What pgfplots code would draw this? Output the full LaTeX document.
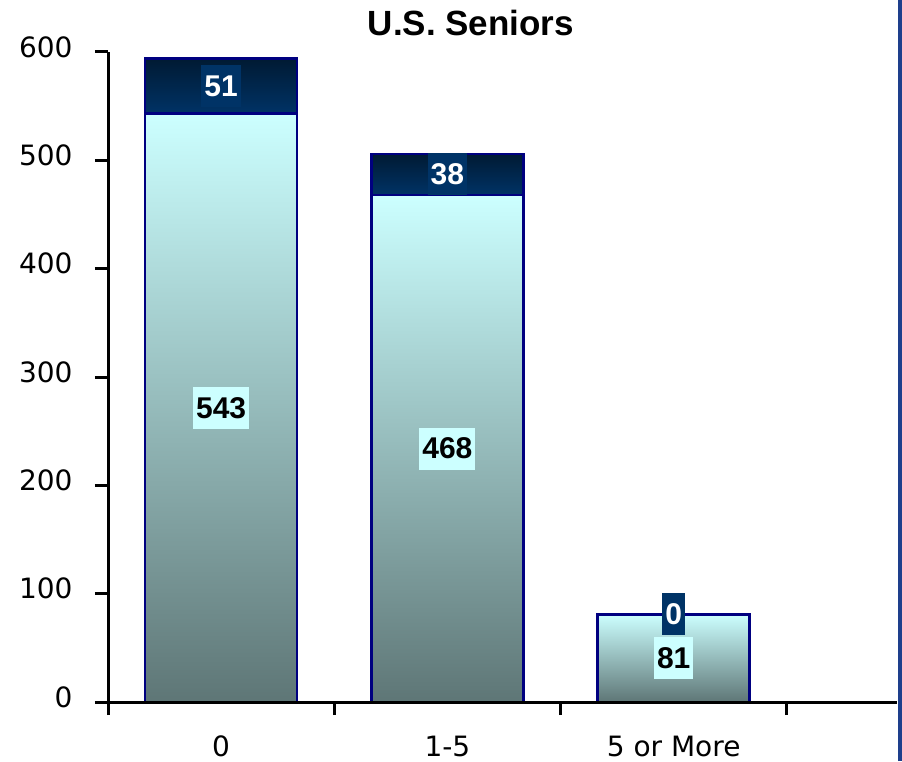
\documentclass[border=0pt]{standalone}
\usepackage{fontspec}
\setmainfont{DejaVu Sans}
\newfontfamily\arial{Liberation Sans}
\usepackage{pgfplots}
\pgfplotsset{compat=1.18}

\definecolor{navyedge}{HTML}{000080}
\definecolor{cyantop}{HTML}{CCFFFF}
\definecolor{cyanmid}{HTML}{9CBEBE}
\definecolor{cyanbot}{HTML}{5E7676}
\definecolor{darktop}{HTML}{001A33}
\definecolor{darkbot}{HTML}{003366}
\definecolor{frameblue}{HTML}{1E3F8C}

\pgfplotsset{
  samebox/.style={
    at={(108pt,59pt)}, anchor=south west,
    scale only axis, width=789pt, height=650pt,
    xmin=-0.5, xmax=2.987, ymin=0, ymax=600,
    clip=false,
  },
  % one axis per bar, so that each bar gets its own gradient
  barax/.style={samebox, hide axis, ybar stacked, bar width=0.672},
  lower/.style={draw=navyedge, line width=2.5pt,
    top color=cyantop, middle color=cyanmid, bottom color=cyanbot},
  upper/.style={draw=navyedge, line width=2.5pt,
    top color=darktop, bottom color=darkbot},
  lab/.style={
    only marks, mark=none,
    nodes near coords, point meta=explicit symbolic,
    every node near coord/.append style={
      anchor=center, inner xsep=3pt, inner ysep=0pt,
      minimum height=42pt, text depth=0pt,
      font=\arial\bfseries\fontsize{30}{36}\selectfont, #1},
  },
}

\begin{document}
\begin{tikzpicture}
\path[use as bounding box] (0,0) rectangle (902pt,761pt);

\begin{axis}[barax]
\addplot[lower] coordinates {(0,543)};
\addplot[upper] coordinates {(0,51)};
\end{axis}
\begin{axis}[barax]
\addplot[lower] coordinates {(1,468)};
\addplot[upper] coordinates {(1,38)};
\end{axis}
\begin{axis}[barax]
\addplot[lower] coordinates {(2,81)};
\addplot[upper] coordinates {(2,0)};
\end{axis}

\begin{axis}[
  samebox,
  axis x line*=bottom, axis y line*=left,
  axis line style={-, line width=3pt, black},
  tick align=outside, major tick length=13pt,
  tick style={line width=3pt, black},
  ytick={0,100,...,600},
  xtick={-0.5,0.5,1.5,2.5}, xticklabels={},
  extra x ticks={0,1,2},
  extra x tick labels={0,1-5,5 or More},
  extra x tick style={major tick length=0pt},
  tick label style={font=\fontsize{28}{34}\selectfont},
  /pgf/number format/assume math mode=true,
  yticklabel style={xshift=-19pt, yshift=5pt},
  xticklabel style={anchor=base, yshift=-54pt},
  title={U.S. Seniors},
  title style={at={(0.46,1)}, anchor=base, yshift=10pt,
    font=\arial\bfseries\fontsize{35}{40}\selectfont},
]
\addplot[lab={fill=cyantop, text=black}] table[meta=lab] {
x y lab
0 271.5 543
1 234 468
2 40.5 81
};
\addplot[lab={fill=darkbot, text=white}] table[meta=lab] {
x y lab
0 568.5 51
1 487 38
2 81 0
};
\end{axis}

\draw[frameblue, line width=4pt] (900pt,0) -- (900pt,761pt);
\end{tikzpicture}
\end{document}
